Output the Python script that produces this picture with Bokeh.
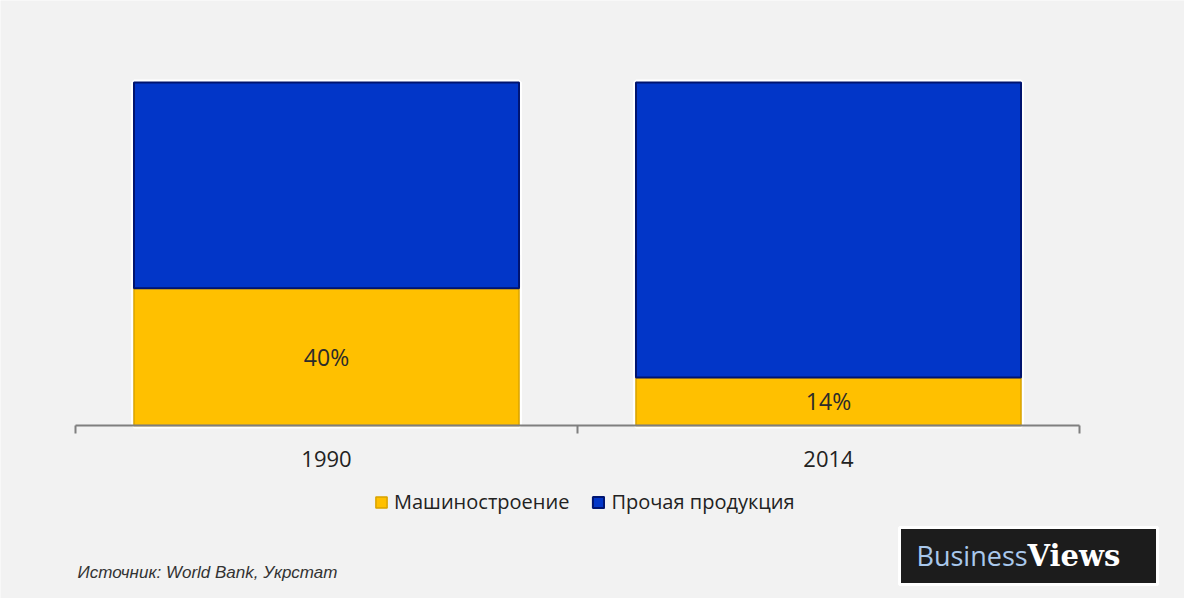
from bokeh.plotting import figure
from bokeh.models import (ColumnDataSource, FixedTicker, Legend, LegendItem, Label,
                          BoxAnnotation)
from bokeh.core.properties import value
from bokeh.embed import file_html
from bokeh.resources import INLINE

# ---- data ----
years = ["1990", "2014"]
machinery = [0.40, 0.14]          # Машиностроение
other = [0.60, 0.86]              # Прочая продукция
pct_labels = ["40%", "14%"]
series_names = ["Машиностроение", "Прочая продукция"]
source_note = "Источник: World Bank, Укрстат"

YELLOW = "#FFC000"
BLUE = "#0236C8"
BG = "#F2F2F2"

xs = [i + 0.5 for i in range(len(years))]
src = ColumnDataSource(dict(
    x=xs,
    mach=machinery,
    other=other,
    total=[m + o for m, o in zip(machinery, other)],
    mid=[m / 2 for m in machinery],
    lab=pct_labels,
))

W, H = 1184, 598
# frame spans the whole figure; pixel scale: 502 px per category, 343 px per 100 %
XU, YU = 502.0, 343.0
x0_px, y0_px = 75, 425          # position of (0, 0) in figure pixels (from top-left)
p = figure(width=W, height=H, output_backend="svg", toolbar_location=None,
           x_range=(-x0_px / XU, (W - x0_px) / XU),
           y_range=(-(H - y0_px) / YU, y0_px / YU),
           background_fill_color=BG, border_fill_color=BG,
           min_border=0, min_border_left=0, min_border_right=0,
           min_border_top=0, min_border_bottom=0)
p.outline_line_color = None
p.xgrid.visible = False
p.ygrid.visible = False
p.yaxis.visible = False

BW = 0.767
# white halo around each bar
p.vbar(x="x", top="total", bottom=0, width=BW, source=src,
       fill_color=None, line_color="white", line_width=6)
r_m = p.vbar(x="x", top="mach", bottom=0, width=BW, source=src,
             fill_color=YELLOW, line_color="#D9A300", line_width=1.5)
r_o = p.vbar(x="x", top="total", bottom="mach", width=BW, source=src,
             fill_color=BLUE, line_color="#001470", line_width=2)

p.text(x="x", y="mid", text="lab", source=src, text_align="center",
       text_baseline="middle", text_font=value("Open Sans"),
       text_font_size="23px", text_color="#2b2b2b")

ax = p.xaxis[0]
ax.fixed_location = 0
ax.bounds = (0, len(years))
ax.ticker = FixedTicker(ticks=xs, minor_ticks=list(range(len(years) + 1)))
ax.major_label_overrides = {x: y for x, y in zip(xs, years)}
ax.major_tick_out = 0
ax.major_tick_in = 0
ax.minor_tick_out = 8
ax.minor_tick_in = 0
ax.minor_tick_line_color = "#7f7f7f"
ax.minor_tick_line_width = 2
ax.axis_line_color = "#7f7f7f"
ax.axis_line_width = 2
ax.major_label_standoff = 17
ax.major_label_text_font = "Open Sans"
ax.major_label_text_font_size = "22px"
ax.major_label_text_color = "#222222"

legend = Legend(items=[LegendItem(label=series_names[0], renderers=[r_m]),
                       LegendItem(label=series_names[1], renderers=[r_o])],
                orientation="horizontal", location=(374, 83),
                background_fill_alpha=0, border_line_alpha=0,
                glyph_width=14, glyph_height=14, label_standoff=6,
                spacing=22, padding=0, margin=0,
                label_text_font="Open Sans", label_text_font_size="20px",
                label_text_color="#222222")
p.add_layout(legend, "center")

p.add_layout(Label(x=77, y=26, x_units="screen", y_units="screen",
                   text=source_note, text_font="Liberation Sans",
                   text_font_style="italic", text_font_size="17px",
                   text_color="#333333", text_baseline="middle"))

# logo box
p.add_layout(BoxAnnotation(left=899, right=1157, bottom=14, top=71,
                           left_units="screen", right_units="screen",
                           bottom_units="screen", top_units="screen",
                           fill_color="#1c1c1c", fill_alpha=1,
                           line_color="white", line_width=3, line_alpha=1,
                           level="overlay"))
p.add_layout(Label(x=916, y=43, x_units="screen", y_units="screen",
                   text="Business", text_font="Open Sans",
                   text_font_size="27px", text_color="#A9C8EC",
                   text_baseline="middle", level="overlay"))
p.add_layout(Label(x=1027, y=43, x_units="screen", y_units="screen",
                   text="Views", text_font="DejaVu Serif",
                   text_font_style="bold", text_font_size="29px",
                   text_color="white", text_baseline="middle", level="overlay"))

open("out.html", "w").write(file_html(p, INLINE))
